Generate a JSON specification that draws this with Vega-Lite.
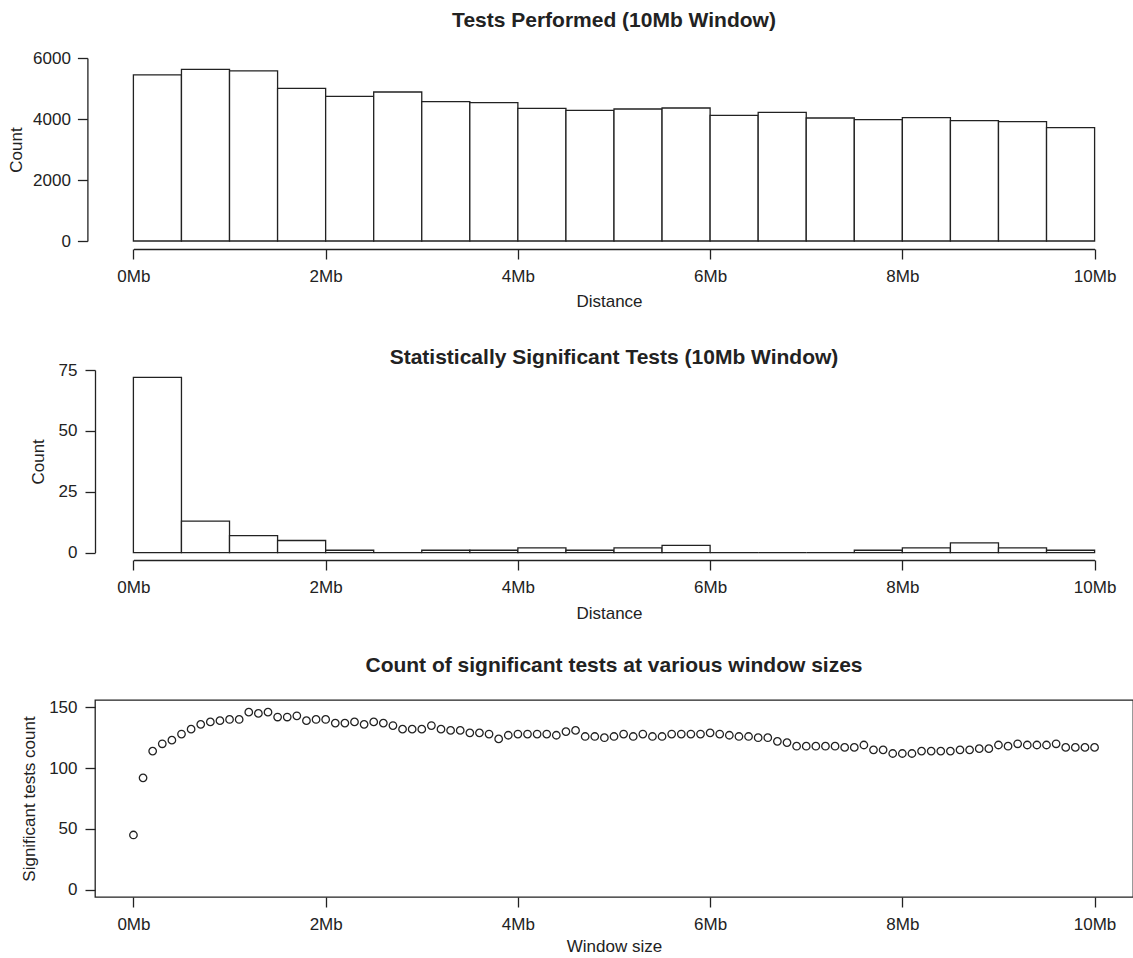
{
  "$schema": "https://vega.github.io/schema/vega-lite/v6.json",
  "padding": {"left": 7, "top": 10, "right": 0, "bottom": 5},
  "background": "white",
  "config": {
    "font": "Liberation Sans",
    "view": {"stroke": null},
    "axis": {
      "grid": false,
      "domainColor": "#222222",
      "domainWidth": 1.3,
      "tickColor": "#222222",
      "tickWidth": 1.3,
      "tickSize": 10,
      "labelFont": "Liberation Sans",
      "labelFontSize": 17,
      "labelColor": "#222222",
      "titleFont": "Liberation Sans",
      "titleFontSize": 17,
      "titleFontWeight": "normal",
      "titleColor": "#222222",
      "labelFlush": false,
      "labelOverlap": false
    },
    "title": {"font": "Liberation Sans", "fontSize": 21, "fontWeight": "bold", "color": "#222222", "anchor": "middle", "frame": "group"}
  },
  "bounds": "flush",
  "spacing": 140,
  "vconcat": [
    {
      "title": {"text": "Tests Performed (10Mb Window)", "offset": 17.6},
      "width": 1038,
      "height": 191,
      "data": {"values": [
        {"start": 0.0, "end": 0.5, "count": 5450},
        {"start": 0.5, "end": 1.0, "count": 5630},
        {"start": 1.0, "end": 1.5, "count": 5575},
        {"start": 1.5, "end": 2.0, "count": 5005},
        {"start": 2.0, "end": 2.5, "count": 4745},
        {"start": 2.5, "end": 3.0, "count": 4885},
        {"start": 3.0, "end": 3.5, "count": 4570},
        {"start": 3.5, "end": 4.0, "count": 4535},
        {"start": 4.0, "end": 4.5, "count": 4350},
        {"start": 4.5, "end": 5.0, "count": 4285},
        {"start": 5.0, "end": 5.5, "count": 4328},
        {"start": 5.5, "end": 6.0, "count": 4360},
        {"start": 6.0, "end": 6.5, "count": 4120},
        {"start": 6.5, "end": 7.0, "count": 4218},
        {"start": 7.0, "end": 7.5, "count": 4033},
        {"start": 7.5, "end": 8.0, "count": 3978},
        {"start": 8.0, "end": 8.5, "count": 4044},
        {"start": 8.5, "end": 9.0, "count": 3945},
        {"start": 9.0, "end": 9.5, "count": 3913},
        {"start": 9.5, "end": 10.0, "count": 3716}
      ]},
      "mark": {"type": "rect", "fill": "white", "stroke": "#222222", "strokeWidth": 1.3},
      "encoding": {
        "x": {"field": "start", "type": "quantitative",
          "scale": {"domain": [0, 10], "range": [38.4, 999.6], "nice": false, "zero": false},
          "axis": {"values": [0, 2, 4, 6, 8, 10], "labelExpr": "datum.value + 'Mb'", "title": "Distance", "titleX": 514, "titleY": 57.5, "titleBaseline": "alphabetic", "labelPadding": 9.5}},
        "x2": {"field": "end"},
        "y": {"field": "count", "type": "quantitative",
          "scale": {"domain": [0, 6000], "range": [183, 0], "nice": false},
          "axis": {"values": [0, 2000, 4000, 6000], "format": "d", "title": "Count", "offset": 7.6, "titleX": -65.5, "titleBaseline": "alphabetic", "labelPadding": 7}},
        "y2": {"datum": 0}
      }
    },
    {
      "title": {"text": "Statistically Significant Tests (10Mb Window)", "offset": -7.4},
      "width": 1038,
      "height": 171,
      "data": {"values": [
        {"start": 0.0, "end": 0.5, "count": 72},
        {"start": 0.5, "end": 1.0, "count": 13},
        {"start": 1.0, "end": 1.5, "count": 7},
        {"start": 1.5, "end": 2.0, "count": 5},
        {"start": 2.0, "end": 2.5, "count": 1},
        {"start": 2.5, "end": 3.0, "count": 0},
        {"start": 3.0, "end": 3.5, "count": 1},
        {"start": 3.5, "end": 4.0, "count": 1},
        {"start": 4.0, "end": 4.5, "count": 2},
        {"start": 4.5, "end": 5.0, "count": 1},
        {"start": 5.0, "end": 5.5, "count": 2},
        {"start": 5.5, "end": 6.0, "count": 3},
        {"start": 6.0, "end": 6.5, "count": 0},
        {"start": 6.5, "end": 7.0, "count": 0},
        {"start": 7.0, "end": 7.5, "count": 0},
        {"start": 7.5, "end": 8.0, "count": 1},
        {"start": 8.0, "end": 8.5, "count": 2},
        {"start": 8.5, "end": 9.0, "count": 4},
        {"start": 9.0, "end": 9.5, "count": 2},
        {"start": 9.5, "end": 10.0, "count": 1}
      ]},
      "mark": {"type": "rect", "fill": "white", "stroke": "#222222", "strokeWidth": 1.3},
      "encoding": {
        "x": {"field": "start", "type": "quantitative",
          "scale": {"domain": [0, 10], "range": [38.4, 999.6], "nice": false, "zero": false},
          "axis": {"values": [0, 2, 4, 6, 8, 10], "labelExpr": "datum.value + 'Mb'", "title": "Distance", "titleX": 514, "titleY": 58, "titleBaseline": "alphabetic", "labelPadding": 9.5}},
        "x2": {"field": "end"},
        "y": {"field": "count", "type": "quantitative",
          "scale": {"domain": [0, 75], "range": [163.7, -19], "nice": false},
          "axis": {"values": [0, 25, 50, 75], "format": "d", "title": "Count", "titleX": -51.7, "titleBaseline": "alphabetic", "labelPadding": 8}},
        "y2": {"datum": 0}
      }
    },
    {
      "title": {"text": "Count of significant tests at various window sizes", "offset": 22},
      "width": 1038,
      "height": 197,
      "view": {"stroke": "#222222", "strokeWidth": 1.3},
      "data": {"values": [
        {"size": 0.0, "n": 45}, {"size": 0.1, "n": 92}, {"size": 0.2, "n": 114}, {"size": 0.3, "n": 120}, {"size": 0.4, "n": 123},
        {"size": 0.5, "n": 128}, {"size": 0.6, "n": 132}, {"size": 0.7, "n": 136}, {"size": 0.8, "n": 138}, {"size": 0.9, "n": 139},
        {"size": 1.0, "n": 140}, {"size": 1.1, "n": 140}, {"size": 1.2, "n": 146}, {"size": 1.3, "n": 145}, {"size": 1.4, "n": 146},
        {"size": 1.5, "n": 142}, {"size": 1.6, "n": 142}, {"size": 1.7, "n": 143}, {"size": 1.8, "n": 139}, {"size": 1.9, "n": 140},
        {"size": 2.0, "n": 140}, {"size": 2.1, "n": 137}, {"size": 2.2, "n": 137}, {"size": 2.3, "n": 138}, {"size": 2.4, "n": 136},
        {"size": 2.5, "n": 138}, {"size": 2.6, "n": 137}, {"size": 2.7, "n": 135}, {"size": 2.8, "n": 132}, {"size": 2.9, "n": 132},
        {"size": 3.0, "n": 132}, {"size": 3.1, "n": 135}, {"size": 3.2, "n": 132}, {"size": 3.3, "n": 131}, {"size": 3.4, "n": 131},
        {"size": 3.5, "n": 129}, {"size": 3.6, "n": 129}, {"size": 3.7, "n": 128}, {"size": 3.8, "n": 124}, {"size": 3.9, "n": 127},
        {"size": 4.0, "n": 128}, {"size": 4.1, "n": 128}, {"size": 4.2, "n": 128}, {"size": 4.3, "n": 128}, {"size": 4.4, "n": 127},
        {"size": 4.5, "n": 130}, {"size": 4.6, "n": 131}, {"size": 4.7, "n": 126}, {"size": 4.8, "n": 126}, {"size": 4.9, "n": 125},
        {"size": 5.0, "n": 126}, {"size": 5.1, "n": 128}, {"size": 5.2, "n": 126}, {"size": 5.3, "n": 128}, {"size": 5.4, "n": 126},
        {"size": 5.5, "n": 126}, {"size": 5.6, "n": 128}, {"size": 5.7, "n": 128}, {"size": 5.8, "n": 128}, {"size": 5.9, "n": 128},
        {"size": 6.0, "n": 129}, {"size": 6.1, "n": 128}, {"size": 6.2, "n": 127}, {"size": 6.3, "n": 126}, {"size": 6.4, "n": 126},
        {"size": 6.5, "n": 125}, {"size": 6.6, "n": 125}, {"size": 6.7, "n": 122}, {"size": 6.8, "n": 121}, {"size": 6.9, "n": 118},
        {"size": 7.0, "n": 118}, {"size": 7.1, "n": 118}, {"size": 7.2, "n": 118}, {"size": 7.3, "n": 118}, {"size": 7.4, "n": 117},
        {"size": 7.5, "n": 117}, {"size": 7.6, "n": 119}, {"size": 7.7, "n": 115}, {"size": 7.8, "n": 115}, {"size": 7.9, "n": 112},
        {"size": 8.0, "n": 112}, {"size": 8.1, "n": 112}, {"size": 8.2, "n": 114}, {"size": 8.3, "n": 114}, {"size": 8.4, "n": 114},
        {"size": 8.5, "n": 114}, {"size": 8.6, "n": 115}, {"size": 8.7, "n": 115}, {"size": 8.8, "n": 116}, {"size": 8.9, "n": 116},
        {"size": 9.0, "n": 119}, {"size": 9.1, "n": 118}, {"size": 9.2, "n": 120}, {"size": 9.3, "n": 119}, {"size": 9.4, "n": 119},
        {"size": 9.5, "n": 119}, {"size": 9.6, "n": 120}, {"size": 9.7, "n": 117}, {"size": 9.8, "n": 117}, {"size": 9.9, "n": 117},
        {"size": 10.0, "n": 117}
      ]},
      "mark": {"type": "point", "shape": "circle", "filled": false, "size": 56, "stroke": "#222222", "strokeWidth": 1.3, "opacity": 1},
      "encoding": {
        "x": {"field": "size", "type": "quantitative",
          "scale": {"domain": [-0.4, 10.4], "nice": false, "zero": false},
          "axis": {"domain": false, "values": [0, 2, 4, 6, 8, 10], "labelExpr": "datum.value + 'Mb'", "title": "Window size", "titleY": 54.3, "titleBaseline": "alphabetic", "labelPadding": 9.5}},
        "y": {"field": "n", "type": "quantitative",
          "scale": {"domain": [-6, 156], "nice": false, "zero": false},
          "axis": {"domain": false, "values": [0, 50, 100, 150], "format": "d", "title": "Significant tests count", "titleX": -60.5, "titleBaseline": "alphabetic", "labelPadding": 8}}
      }
    }
  ]
}
